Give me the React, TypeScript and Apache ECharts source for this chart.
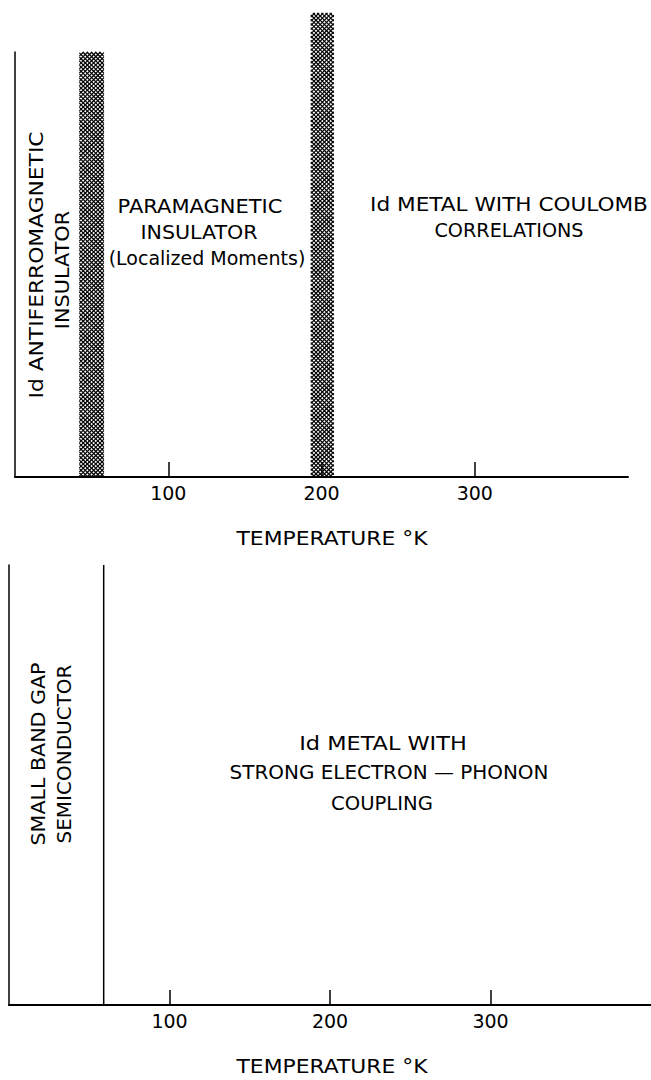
import React, { useEffect, useRef } from "react";
import * as echarts from "echarts";

// ---- data ----
const tickValues = [100, 200, 300];
const axisTitle = "TEMPERATURE °K";
// top panel: hatched transition bands (temperature, K)
const bandStart = [42, 193];
const bandEnd = [58, 208];
const bandHeight = [1.0, 1.092];
// bottom panel: transition line (K)
const transitionTemp = [59];

const FONT = "DejaVu Sans";

export default function App() {
  const ref = useRef<HTMLDivElement>(null);

  useEffect(() => {
    if (!ref.current) return;
    const chart = echarts.init(ref.current, undefined, { renderer: "svg" });

    const bandData = bandStart.map((s, i) => [s, bandEnd[i], bandHeight[i]]);
    const lineData = transitionTemp.flatMap((t) => [
      [t, 0],
      [t, 1],
    ]);

    const xAxisBase = (gridIndex: number) => ({
      type: "value",
      gridIndex,
      min: 0,
      max: 400,
      interval: 100,
      z: 5,
      axisLine: { show: true, lineStyle: { color: "#000", width: 2 } },
      axisTick: {
        show: true,
        inside: true,
        length: 15,
        customValues: tickValues,
        lineStyle: { color: "#000", width: 1.5 },
      },
      axisLabel: {
        show: true,
        customValues: tickValues,
        fontSize: 19,
        color: "#000",
        margin: 6,
        fontFamily: FONT,
      },
      splitLine: { show: false },
    });

    const yAxisBase = (gridIndex: number) => ({
      type: "value",
      gridIndex,
      min: 0,
      max: 1,
      axisLine: { show: true, lineStyle: { color: "#000", width: 1.5 } },
      axisTick: { show: false },
      axisLabel: { show: false },
      splitLine: { show: false },
    });

    const txt = (
      text: string,
      x: number,
      y: number,
      size = 20,
      sx = 1,
      vertical = false
    ) => ({
      type: "text",
      x,
      y,
      rotation: vertical ? Math.PI / 2 : 0,
      scaleX: sx,
      style: {
        text,
        fill: "#000",
        fontSize: size,
        fontFamily: FONT,
        textAlign: "center",
        textVerticalAlign: "middle",
      },
    });

    chart.setOption({
      animation: false,
      backgroundColor: "#fff",
      grid: [
        { left: 15, top: 52, width: 613, height: 425 },
        { left: 9, top: 565, width: 646, height: 440 },
      ],
      xAxis: [xAxisBase(0), xAxisBase(1)],
      yAxis: [yAxisBase(0), yAxisBase(1)],
      series: [
        {
          type: "custom",
          xAxisIndex: 0,
          yAxisIndex: 0,
          clip: false,
          z: 2,
          data: bandData,
          renderItem: (_params: any, api: any) => {
            const p0 = api.coord([api.value(0), 0]);
            const p1 = api.coord([api.value(1), api.value(2)]);
            const left = p0[0];
            const right = p1[0];
            const bottom = p0[1];
            const top = p1[1];
            const w = right - left;
            const H = bottom - top;
            const step = 4.2;
            const children: any[] = [];
            const st = { stroke: "#000", lineWidth: 1.2 };
            for (let c = -H; c <= w; c += step) {
              const xa = Math.max(0, c);
              const xb = Math.min(w, H + c);
              if (xb <= xa) continue;
              children.push({
                type: "line",
                shape: { x1: left + xa, y1: top + xa - c, x2: left + xb, y2: top + xb - c },
                style: st,
              });
            }
            for (let c = 0; c <= w + H; c += step) {
              const xa = Math.max(0, c - H);
              const xb = Math.min(w, c);
              if (xb <= xa) continue;
              children.push({
                type: "line",
                shape: { x1: left + xa, y1: top + c - xa, x2: left + xb, y2: top + c - xb },
                style: st,
              });
            }
            return { type: "group", children };
          },
        },
        {
          type: "line",
          xAxisIndex: 1,
          yAxisIndex: 1,
          data: lineData,
          symbol: "none",
          lineStyle: { color: "#000", width: 1.5 },
        },
      ],
      graphic: [
        txt("Id ANTIFERROMAGNETIC", 36, 265, 20, 1.09, true),
        txt("INSULATOR", 62, 270, 20, 1.04, true),
        txt("PARAMAGNETIC", 200, 206, 20, 1.05),
        txt("INSULATOR", 199, 232, 20, 1.03),
        txt("(Localized Moments)", 207, 258, 19, 1.0),
        txt("Id METAL WITH COULOMB", 509, 204, 20, 1.08),
        txt("CORRELATIONS", 509, 230, 20, 0.96),
        txt(axisTitle, 332, 539, 19, 1.15),
        txt("SMALL BAND GAP", 38, 754, 20, 1.03, true),
        txt("SEMICONDUCTOR", 64, 754, 20, 1.0, true),
        txt("Id METAL WITH", 383, 743, 20, 1.12),
        txt("STRONG ELECTRON — PHONON", 389, 773, 19, 1.05),
        txt("COUPLING", 382, 803, 20, 0.98),
        txt(axisTitle, 332, 1067, 19, 1.15),
      ],
    });

    return () => chart.dispose();
  }, []);

  return (
    <div
      ref={ref}
      style={{
        position: "absolute",
        left: 0,
        top: 0,
        width: 651,
        height: 1080,
        background: "#fff",
      }}
    />
  );
}
